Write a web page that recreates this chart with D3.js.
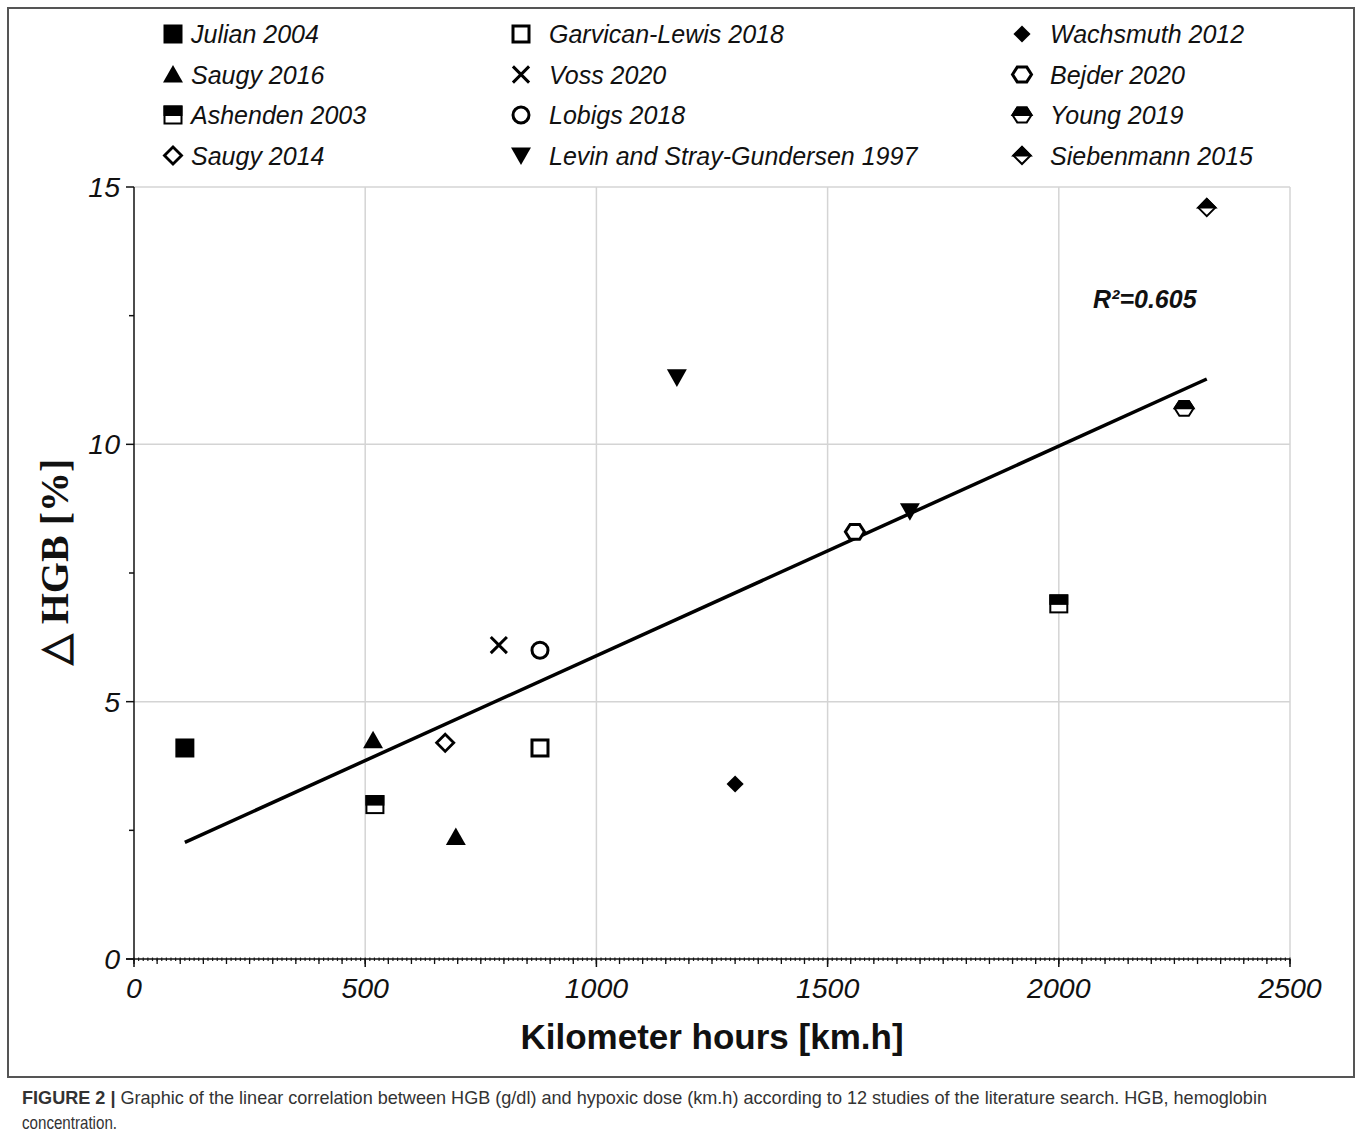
<!DOCTYPE html>
<html>
<head>
<meta charset="utf-8">
<script src="https://cdn.jsdelivr.net/npm/d3@7"></script>
<style>
  body { margin: 0; background: #fff; }
  svg text { font-family: Arial, "Liberation Sans", sans-serif; }
</style>
</head>
<body>
<div id="chart-area"></div>
<script>
// studies in legend order (column by column)
const studies = ['Julian 2004', 'Saugy 2016', 'Ashenden 2003', 'Saugy 2014',
  'Garvican-Lewis 2018', 'Voss 2020', 'Lobigs 2018', 'Levin and Stray-Gundersen 1997',
  'Wachsmuth 2012', 'Bejder 2020', 'Young 2019', 'Siebenmann 2015']

// one entry per point
const pointStudy = ['Julian 2004', 'Saugy 2016', 'Saugy 2016', 'Ashenden 2003', 'Ashenden 2003',
  'Saugy 2014', 'Garvican-Lewis 2018', 'Voss 2020', 'Lobigs 2018',
  'Levin and Stray-Gundersen 1997', 'Levin and Stray-Gundersen 1997',
  'Wachsmuth 2012', 'Bejder 2020', 'Young 2019', 'Siebenmann 2015']
const kmHours = [110, 517, 696, 521, 2000, 673, 878, 789, 878, 1174, 1678, 1300, 1559, 2271, 2320]
const hgbChange = [4.1, 4.25, 2.37, 3.0, 6.9, 4.2, 4.1, 6.1, 6.0, 11.3, 8.7, 3.4, 8.3, 10.7, 14.6]

const xTicks = [0, 500, 1000, 1500, 2000, 2500]
const yTicks = [0, 5, 10, 15]
const r2Label = 'R²=0.605'

const markerOf = {
  'Julian 2004': 'squareFilled',
  'Saugy 2016': 'triangleUp',
  'Ashenden 2003': 'squareHalf',
  'Saugy 2014': 'diamondOpen',
  'Garvican-Lewis 2018': 'squareOpen',
  'Voss 2020': 'cross',
  'Lobigs 2018': 'circleOpen',
  'Levin and Stray-Gundersen 1997': 'triangleDown',
  'Wachsmuth 2012': 'diamondFilled',
  'Bejder 2020': 'hexOpen',
  'Young 2019': 'hexHalf',
  'Siebenmann 2015': 'diamondHalf'
}

const W = 1358
const H = 1137
const PLOT = { LEFT: 134, RIGHT: 1290, TOP: 187, BOTTOM: 959 }

const svg = d3.select('#chart-area').append('svg')
  .attr('width', W)
  .attr('height', H)

// figure frame
svg.append('rect')
  .attr('x', 8).attr('y', 8)
  .attr('width', 1346).attr('height', 1069)
  .attr('fill', 'none')
  .attr('stroke', '#555')
  .attr('stroke-width', 2)

const x = d3.scaleLinear().domain([0, 2500]).range([PLOT.LEFT, PLOT.RIGHT])
const y = d3.scaleLinear().domain([0, 15]).range([PLOT.BOTTOM, PLOT.TOP])

// GRID
svg.append('g')
  .selectAll('line').data(xTicks.filter(d => d > 0))
  .enter().append('line')
  .attr('x1', d => x(d)).attr('x2', d => x(d))
  .attr('y1', PLOT.TOP).attr('y2', PLOT.BOTTOM)
  .attr('stroke', '#d4d4d4').attr('stroke-width', 1.5)
svg.append('g')
  .selectAll('line').data(yTicks.filter(d => d > 0))
  .enter().append('line')
  .attr('x1', PLOT.LEFT).attr('x2', PLOT.RIGHT)
  .attr('y1', d => y(d)).attr('y2', d => y(d))
  .attr('stroke', '#d4d4d4').attr('stroke-width', 1.5)

// X AXIS: major, minor (50) and tiny (10) ticks
const xAxisG = svg.append('g')
xAxisG.selectAll('.tiny').data(d3.range(0, 2501, 10))
  .enter().append('line')
  .attr('x1', d => x(d)).attr('x2', d => x(d))
  .attr('y1', PLOT.BOTTOM - 1.5).attr('y2', PLOT.BOTTOM + 2)
  .attr('stroke', '#222').attr('stroke-width', 1.2)
xAxisG.selectAll('.minor').data(d3.range(0, 2501, 50))
  .enter().append('line')
  .attr('x1', d => x(d)).attr('x2', d => x(d))
  .attr('y1', PLOT.BOTTOM).attr('y2', PLOT.BOTTOM + 5)
  .attr('stroke', '#111').attr('stroke-width', 1.3)
xAxisG.selectAll('.major').data(xTicks)
  .enter().append('line')
  .attr('x1', d => x(d)).attr('x2', d => x(d))
  .attr('y1', PLOT.BOTTOM).attr('y2', PLOT.BOTTOM + 8)
  .attr('stroke', '#111').attr('stroke-width', 1.5)
xAxisG.append('line')
  .attr('x1', PLOT.LEFT - 8).attr('x2', PLOT.RIGHT)
  .attr('y1', PLOT.BOTTOM).attr('y2', PLOT.BOTTOM)
  .attr('stroke', '#111').attr('stroke-width', 1.5)
xAxisG.selectAll('text').data(xTicks)
  .enter().append('text')
  .attr('x', d => x(d))
  .attr('y', PLOT.BOTTOM + 39)
  .attr('text-anchor', 'middle')
  .attr('font-size', '28.5px')
  .attr('font-style', 'italic')
  .attr('fill', '#111')
  .text(d => d)

// Y AXIS
const yAxisG = svg.append('g')
yAxisG.append('line')
  .attr('x1', PLOT.LEFT).attr('x2', PLOT.LEFT)
  .attr('y1', PLOT.TOP).attr('y2', PLOT.BOTTOM)
  .attr('stroke', '#111').attr('stroke-width', 1.5)
yAxisG.selectAll('.major').data(yTicks)
  .enter().append('line')
  .attr('x1', PLOT.LEFT - 8).attr('x2', PLOT.LEFT)
  .attr('y1', d => y(d)).attr('y2', d => y(d))
  .attr('stroke', '#111').attr('stroke-width', 1.5)
yAxisG.selectAll('.minor').data(d3.range(2.5, 15, 5))
  .enter().append('line')
  .attr('x1', PLOT.LEFT - 5).attr('x2', PLOT.LEFT)
  .attr('y1', d => y(d)).attr('y2', d => y(d))
  .attr('stroke', '#111').attr('stroke-width', 1.5)
yAxisG.selectAll('text').data(yTicks)
  .enter().append('text')
  .attr('x', PLOT.LEFT - 14)
  .attr('y', d => y(d) + 10)
  .attr('text-anchor', 'end')
  .attr('font-size', '28.5px')
  .attr('font-style', 'italic')
  .attr('fill', '#111')
  .text(d => d)

// AXIS LABELS
svg.append('text')
  .attr('x', 712)
  .attr('y', 1049)
  .attr('text-anchor', 'middle')
  .attr('font-size', '35px')
  .attr('font-weight', 'bold')
  .attr('fill', '#111')
  .text('Kilometer hours [km.h]')
svg.append('text')
  .attr('transform', 'translate(68, 562) rotate(-90)')
  .attr('text-anchor', 'middle')
  .attr('font-size', '40px')
  .attr('font-weight', 'bold')
  .style('font-family', '"Liberation Serif", "Times New Roman", serif')
  .attr('fill', '#111')
  .text('△ HGB [%]')

// REGRESSION LINE (least squares on the points)
const mx = d3.mean(kmHours)
const my = d3.mean(hgbChange)
const sxy = d3.sum(kmHours, (v, i) => (v - mx) * (hgbChange[i] - my))
const sxx = d3.sum(kmHours, v => (v - mx) * (v - mx))
const slope = sxy / sxx
const icpt = my - slope * mx
const xExt = d3.extent(kmHours)
svg.append('path')
  .datum(xExt)
  .attr('d', d3.line().x(d => x(d)).y(d => y(icpt + slope * d)))
  .attr('stroke', '#000')
  .attr('stroke-width', 3.5)
  .attr('fill', 'none')

svg.append('text')
  .attr('x', 1093)
  .attr('y', 308)
  .attr('font-size', '25px')
  .attr('font-weight', 'bold')
  .attr('font-style', 'italic')
  .attr('fill', '#111')
  .text(r2Label)

// MARKERS
function drawMarker (sel, type, cx, cy, s) {
  const g = sel.append('g').attr('transform', `translate(${cx}, ${cy})`)
  const h = s / 2
  const poly = pts => 'M' + pts.map(p => p.join(',')).join('L') + 'Z'
  const hex = [[-h, 0], [-h / 2, -h * 0.78], [h / 2, -h * 0.78], [h, 0], [h / 2, h * 0.78], [-h / 2, h * 0.78]]
  const hexTop = [[-h, 0], [-h / 2, -h * 0.78], [h / 2, -h * 0.78], [h, 0]]
  const dia = [[-h * 0.9, 0], [0, -h * 0.9], [h * 0.9, 0], [0, h * 0.9]]
  const diaTop = [[-h * 0.9, 0], [0, -h * 0.9], [h * 0.9, 0]]
  if (type === 'squareFilled') {
    g.append('rect').attr('x', -h).attr('y', -h).attr('width', s).attr('height', s).attr('fill', '#000')
  } else if (type === 'squareOpen') {
    g.append('rect').attr('x', -h + 1.5).attr('y', -h + 1.5).attr('width', s - 3).attr('height', s - 3)
      .attr('fill', '#fff').attr('stroke', '#000').attr('stroke-width', 3)
  } else if (type === 'squareHalf') {
    g.append('rect').attr('x', -h + 1).attr('y', -h + 1).attr('width', s - 2).attr('height', s - 2)
      .attr('fill', '#fff').attr('stroke', '#000').attr('stroke-width', 2)
    g.append('rect').attr('x', -h).attr('y', -h).attr('width', s).attr('height', h + 1).attr('fill', '#000')
  } else if (type === 'triangleUp') {
    g.append('path').attr('d', poly([[0, -h], [h * 1.05, h * 0.85], [-h * 1.05, h * 0.85]])).attr('fill', '#000')
  } else if (type === 'triangleDown') {
    g.append('path').attr('d', poly([[0, h], [h * 1.05, -h * 0.85], [-h * 1.05, -h * 0.85]])).attr('fill', '#000')
  } else if (type === 'cross') {
    g.append('path').attr('d', `M${-h * 0.85},${-h * 0.85}L${h * 0.85},${h * 0.85}M${h * 0.85},${-h * 0.85}L${-h * 0.85},${h * 0.85}`)
      .attr('stroke', '#000').attr('stroke-width', 3)
  } else if (type === 'circleOpen') {
    g.append('circle').attr('r', h - 1.5).attr('fill', '#fff').attr('stroke', '#000').attr('stroke-width', 3)
  } else if (type === 'diamondOpen') {
    g.append('path').attr('d', poly(dia)).attr('fill', '#fff').attr('stroke', '#000').attr('stroke-width', 2.8)
  } else if (type === 'diamondFilled') {
    g.append('path').attr('d', poly(dia)).attr('fill', '#000')
  } else if (type === 'diamondHalf') {
    g.append('path').attr('d', poly(dia)).attr('fill', '#fff').attr('stroke', '#000').attr('stroke-width', 2)
    g.append('path').attr('d', poly(diaTop)).attr('fill', '#000').attr('stroke', '#000').attr('stroke-width', 2)
  } else if (type === 'hexOpen') {
    g.append('path').attr('d', poly(hex)).attr('fill', '#fff').attr('stroke', '#000').attr('stroke-width', 3)
  } else if (type === 'hexHalf') {
    g.append('path').attr('d', poly(hex)).attr('fill', '#fff').attr('stroke', '#000').attr('stroke-width', 2)
    g.append('path').attr('d', poly(hexTop)).attr('fill', '#000').attr('stroke', '#000').attr('stroke-width', 2)
  }
}

const pts = svg.append('g')
kmHours.forEach((v, i) => {
  drawMarker(pts, markerOf[pointStudy[i]], x(v), y(hgbChange[i]), 19)
})

// LEGEND
const legendCols = [173, 521, 1022]
const legend = svg.append('g')
studies.forEach((s, i) => {
  const col = Math.floor(i / 4)
  const row = i % 4
  const ly = 34 + row * 40.5
  drawMarker(legend, markerOf[s], legendCols[col], ly, 19)
  legend.append('text')
    .attr('x', legendCols[col] + (col === 0 ? 18 : 28))
    .attr('y', ly + 9)
    .attr('font-size', '25px')
    .attr('font-style', 'italic')
    .attr('fill', '#111')
    .text(s)
})

// CAPTION
const cap = svg.append('text')
  .attr('x', 22)
  .attr('y', 1104)
  .attr('font-size', '18.5px')
  .attr('fill', '#333')
  .attr('textLength', 1245)
  .attr('lengthAdjust', 'spacingAndGlyphs')
  .style('font-family', '"Liberation Sans Narrow", "Arial Narrow", sans-serif')
cap.append('tspan').attr('font-weight', 'bold').text('FIGURE 2 | ')
cap.append('tspan').text('Graphic of the linear correlation between HGB (g/dl) and hypoxic dose (km.h) according to 12 studies of the literature search. HGB, hemoglobin')
svg.append('text')
  .attr('x', 22)
  .attr('y', 1129)
  .attr('font-size', '18.5px')
  .attr('fill', '#333')
  .attr('textLength', 95)
  .attr('lengthAdjust', 'spacingAndGlyphs')
  .style('font-family', '"Liberation Sans Narrow", "Arial Narrow", sans-serif')
  .text('concentration.')
</script>
</body>
</html>
